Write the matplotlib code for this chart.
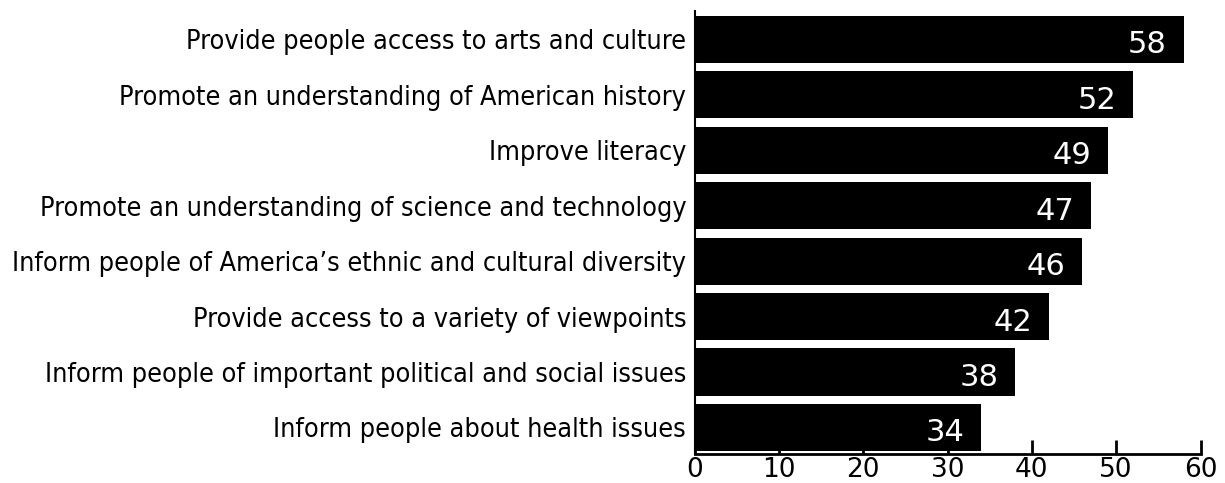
import matplotlib
matplotlib.use('Agg')
import matplotlib.pyplot as plt

labels = ['Provide people access to arts and culture',
          'Promote an understanding of American history',
          'Improve literacy',
          'Promote an understanding of science and technology',
          'Inform people of America\u2019s ethnic and cultural diversity',
          'Provide access to a variety of viewpoints',
          'Inform people of important political and social issues',
          'Inform people about health issues']
values = [58, 52, 49, 47, 46, 42, 38, 34]
xticks = [0, 10, 20, 30, 40, 50, 60]

fig = plt.figure(figsize=(12.25, 4.83), dpi=100)
ax = fig.add_axes([0.567, 0.06, 0.413, 0.917])

pos = list(range(len(values)))
ax.barh(pos, values, height=0.85, color='black', zorder=3)

for p, v in zip(pos, values):
    ax.text(v - 2, p + 0.1, str(v), color='white', fontsize=22,
            ha='right', va='center', zorder=4)

ax.set_xlim(0, 60)
ax.set_ylim(7.48, -0.51)
ax.set_yticks(pos)
ax.set_yticklabels(labels, fontsize=19.4, family='DejaVu Sans', fontstretch='condensed')
ax.set_xticks(xticks)
ax.tick_params(axis='y', length=0, pad=6)
ax.tick_params(axis='x', direction='in', length=10, width=2, labelsize=19, pad=2)

for s in ['top', 'right']:
    ax.spines[s].set_visible(False)
ax.spines['left'].set_linewidth(1.5)
ax.spines['bottom'].set_linewidth(2)

plt.savefig('out.png', dpi=100)
